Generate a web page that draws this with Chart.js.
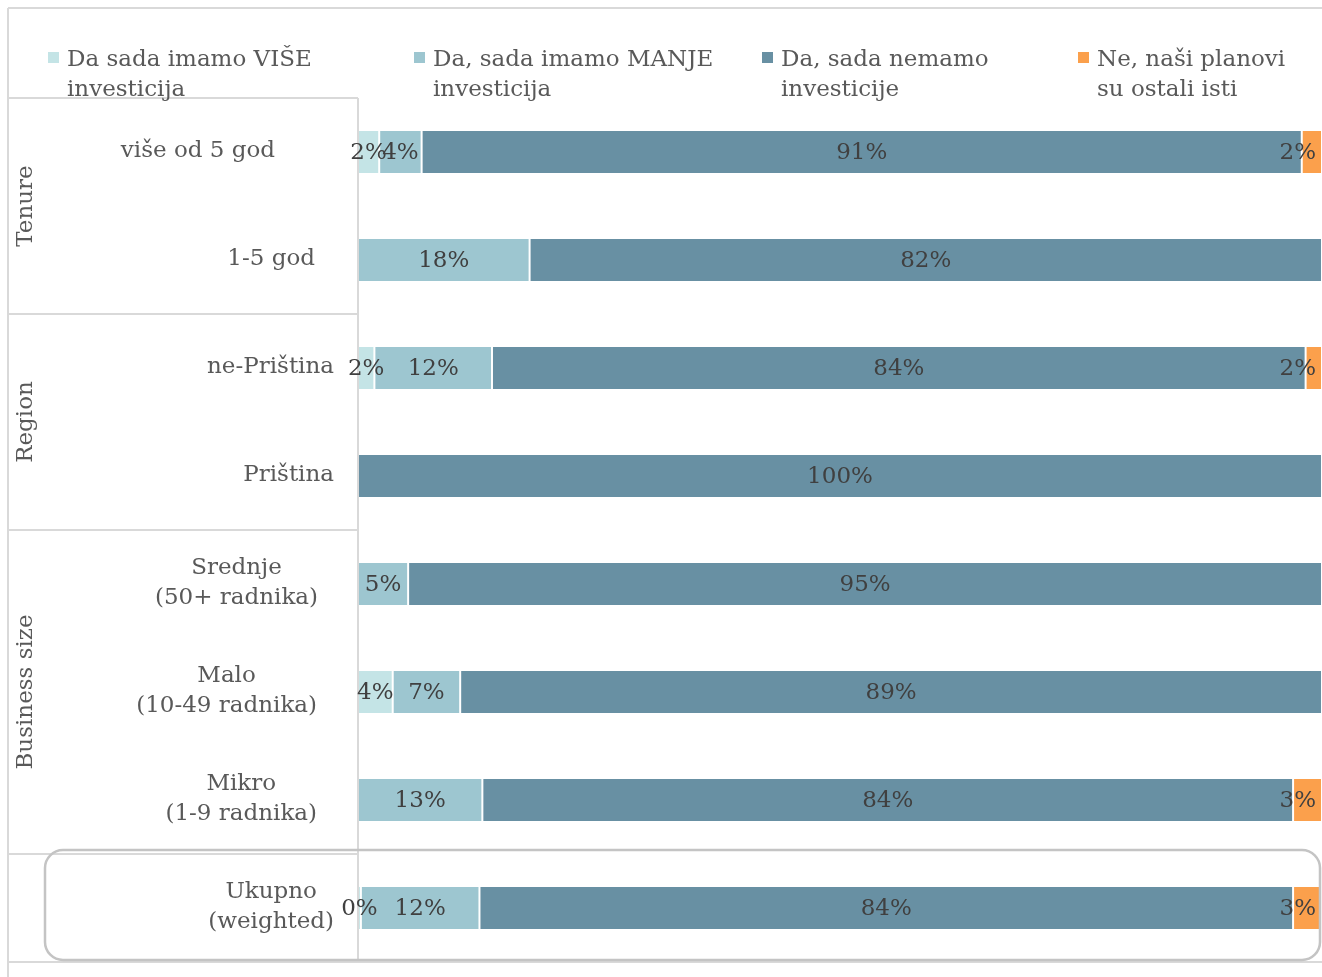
<!DOCTYPE html>
<html><head><meta charset="utf-8">
<script src="https://cdn.jsdelivr.net/npm/chart.js@4"></script>
<style>html,body{margin:0;padding:0;background:#fff}#wrap{width:1322px;height:977px}</style>
</head><body><div id="wrap"><canvas id="c" width="1322" height="977"></canvas></div>
<script>
// ---- data ----
const categories = [
  ['više od 5 god'], ['1-5 god'], ['ne-Priština'], ['Priština'],
  ['Srednje', '(50+ radnika)'], ['Malo', '(10-49 radnika)'], ['Mikro', '(1-9 radnika)'],
  ['Ukupno', '(weighted)']
];
const groupNames = ['Tenure', 'Region', 'Business size'];
const groupSpans = [[0, 1], [2, 3], [4, 6]];
const seriesNames = [
  'Da sada imamo VIŠE\ninvesticija',
  'Da, sada imamo MANJE\ninvesticija',
  'Da, sada nemamo\ninvesticije',
  'Ne, naši planovi\nsu ostali isti'
];
const viseInvesticija   = [2.2, 0, 1.7, 0, 0, 3.6, 0, 0.3];
const manjeInvesticija  = [4.4, 17.8, 12.2, 0, 5.2, 7.0, 12.9, 12.3];
const nemamoInvesticije = [91.3, 82.2, 84.4, 100, 94.8, 89.4, 84.1, 84.4];
const planoviIsti       = [2.1, 0, 1.7, 0, 0, 0, 3.0, 3.0];

// ---- style ----
const colors = ['#c4e4e6', '#9dc6d0', '#6890a3', '#fba04c'];
const FONT = '"DejaVu Serif", Georgia, serif';
const FS = 23;
const legendX = [48, 414, 762, 1078];
const labelRight = [275, 315, 334, 334, 318, 317, 317, 334];

const seriesValues = [viseInvesticija, manjeInvesticija, nemamoInvesticije, planoviIsti];

const decor = {
  id: 'decor',
  beforeDatasetsDraw(chart) {
    const ctx = chart.ctx, ca = chart.chartArea;
    ctx.save();
    ctx.strokeStyle = '#d9d9d9';
    ctx.lineWidth = 2;
    ctx.beginPath();
    ctx.moveTo(8, 8); ctx.lineTo(1322, 8);
    ctx.moveTo(8, 8); ctx.lineTo(8, 977);
    ctx.moveTo(8, ca.bottom); ctx.lineTo(1322, ca.bottom);
    ctx.stroke();
    const step = (ca.bottom - ca.top) / categories.length;
    ctx.beginPath();
    ctx.moveTo(8, ca.top); ctx.lineTo(ca.left, ca.top);
    groupSpans.forEach(s => {
      const yb = ca.top + (s[1] + 1) * step;
      ctx.moveTo(8, yb); ctx.lineTo(ca.left, yb);
    });
    ctx.stroke();
    ctx.restore();
  },
  afterDatasetsDraw(chart) {
    const ctx = chart.ctx, ca = chart.chartArea;
    const step = (ca.bottom - ca.top) / categories.length;
    ctx.save();
    ctx.strokeStyle = '#d9d9d9';
    ctx.lineWidth = 2;
    ctx.beginPath(); ctx.moveTo(ca.left, ca.top); ctx.lineTo(ca.left, ca.bottom); ctx.stroke();
    const yTop = ca.top + 7 * step - 4, yBot = ca.bottom - 2;
    const x0 = 45, x1 = 1320, r = 18;
    ctx.strokeStyle = '#c4c4c4';
    ctx.lineWidth = 2.5;
    ctx.beginPath();
    ctx.roundRect(x0, yTop, x1 - x0, yBot - yTop, r);
    ctx.stroke();

    // data labels
    ctx.font = FS + 'px ' + FONT;
    ctx.fillStyle = '#404040';
    ctx.textBaseline = 'middle';
    ctx.textAlign = 'center';
    chart.data.datasets.forEach((ds, i) => {
      const meta = chart.getDatasetMeta(i);
      meta.data.forEach((el, j) => {
        const v = ds.data[j];
        if (!v) return;
        const t = Math.round(v) + '%';
        const w = ctx.measureText(t).width;
        let x = (el.x + el.base) / 2;
        if (x + w / 2 > ca.right - 6) x = ca.right - 6 - w / 2;
        ctx.fillText(t, x, el.y + 1);
      });
    });

    // category labels
    ctx.fillStyle = '#595959';
    const lh = 30;
    categories.forEach((lines, j) => {
      const yc = chart.scales.y.getPixelForValue(j);
      const widths = lines.map(l => ctx.measureText(l).width);
      const mw = Math.max(...widths);
      const cx = labelRight[j] - mw / 2;
      lines.forEach((l, k) => {
        const y = yc - 1 + (k - (lines.length - 1) / 2) * lh;
        ctx.fillText(l, cx, y);
      });
    });

    // group labels
    groupNames.forEach((g, i) => {
      const s = groupSpans[i];
      const yc = ca.top + (s[0] + s[1] + 1) / 2 * step;
      ctx.save();
      ctx.translate(26, yc);
      ctx.rotate(-Math.PI / 2);
      ctx.fillText(g, 0, 0);
      ctx.restore();
    });

    // legend
    ctx.textAlign = 'left';
    ctx.textBaseline = 'alphabetic';
    chart.data.datasets.forEach((ds, i) => {
      const x = legendX[i];
      ctx.fillStyle = colors[i];
      ctx.fillRect(x, 52, 11, 11);
      ctx.fillStyle = '#595959';
      ds.label.split('\n').forEach((l, k) => {
        ctx.fillText(l, x + 19, 66 + k * 30);
      });
    });
    ctx.restore();
  }
};

new Chart(document.getElementById('c'), {
  type: 'bar',
  data: {
    labels: categories.map(c => c.join(' ')),
    datasets: seriesValues.map((vals, i) => ({
      label: seriesNames[i],
      data: vals,
      backgroundColor: colors[i],
      borderColor: '#ffffff',
      borderWidth: { left: 1, right: 1, top: 0, bottom: 0 },
      borderSkipped: false,
      barPercentage: 0.78,
      categoryPercentage: 0.5
    }))
  },
  options: {
    indexAxis: 'y',
    responsive: false,
    animation: false,
    devicePixelRatio: 1,
    layout: { padding: { left: 358, right: 0, top: 98, bottom: 15 } },
    plugins: { legend: { display: false }, tooltip: { enabled: false } },
    scales: {
      x: { stacked: true, min: 0, max: 100, display: false },
      y: { stacked: true, display: false }
    }
  },
  plugins: [decor]
});
</script>
</body></html>
